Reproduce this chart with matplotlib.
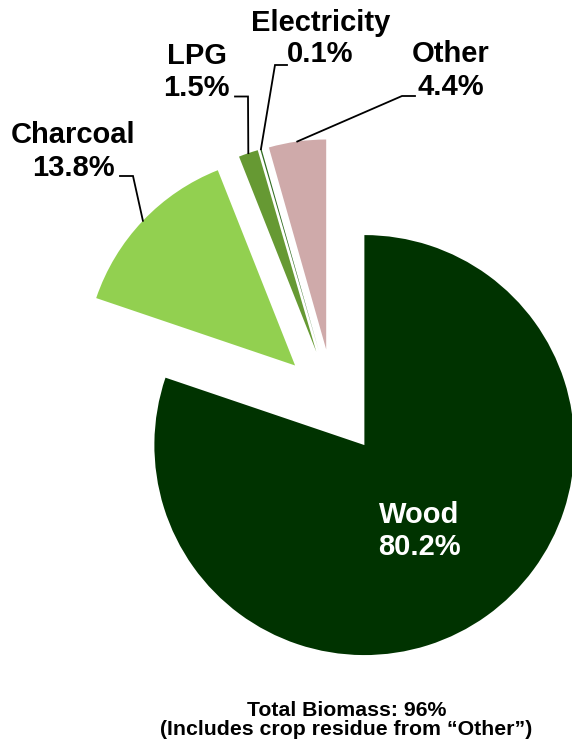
import numpy as np
import matplotlib.pyplot as plt

# Household cooking fuel shares (%)
categories = ['Wood', 'Charcoal', 'LPG', 'Electricity', 'Other']
shares = [80.2, 13.8, 1.5, 0.1, 4.4]
colors = ['#003300', '#92D050', '#669933', '#2F6B1F', '#CFAAAA']

footer = ['Total Biomass: 96%', '(Includes crop residue from \u201cOther\u201d)']

W, H = 572, 746
plt.rcParams['font.family'] = ['Liberation Sans', 'DejaVu Sans']
plt.rcParams['font.weight'] = 'bold'

fig = plt.figure(figsize=(W / 100, H / 100), dpi=100)
ax = fig.add_axes([0, 0, 1, 1])


def py(y):
    # pixel row (from top) -> axes units
    return H - y


R = 210
wedges, _ = ax.pie(shares, colors=colors, radius=R, center=(333.5, py(402)),
                   explode=[53] * len(shares), startangle=90, counterclock=False,
                   wedgeprops=dict(linewidth=0))
ax.set_xlim(0, W)
ax.set_ylim(0, H)
ax.set_aspect('auto')
ax.axis('off')

# label layout (pixels)
label_x = [419.5, 73.5, 196.5, 320.5, 451]
name_y = [523, 143, 63.5, 31, 62]
pct_y = [555, 176.5, 96.5, 62, 95]
lead_x0 = [None, 120, 235, 287, 415]
lead_x1 = [None, 133, 248, 275, 402]
lead_y = [None, 176, 96.5, 65, 96]

fs = 21
for i, (w, name, val) in enumerate(zip(wedges, categories, shares)):
    col = 'white' if i == 0 else 'black'
    ax.text(label_x[i], py(name_y[i]), name, ha='center', va='baseline',
            fontsize=fs, fontweight='bold', color=col)
    ax.text(label_x[i], py(pct_y[i]), f'{val:.1f}%', ha='center', va='baseline',
            fontsize=fs, fontweight='bold', color=col)
    if lead_x0[i] is not None:
        tm = np.deg2rad((w.theta1 + w.theta2) / 2)
        ex = w.center[0] + R * np.cos(tm)
        ey = w.center[1] + R * np.sin(tm)
        ax.plot([lead_x0[i], lead_x1[i], ex], [py(lead_y[i])] * 2 + [ey],
                color='black', lw=1.3, solid_joinstyle='miter')

ax.text(347, py(716), footer[0], ha='center', va='baseline', fontsize=15.3, fontweight='bold')
ax.text(346, py(735), footer[1], ha='center', va='baseline', fontsize=15.3, fontweight='bold')

fig.savefig('out.png', dpi=100)
